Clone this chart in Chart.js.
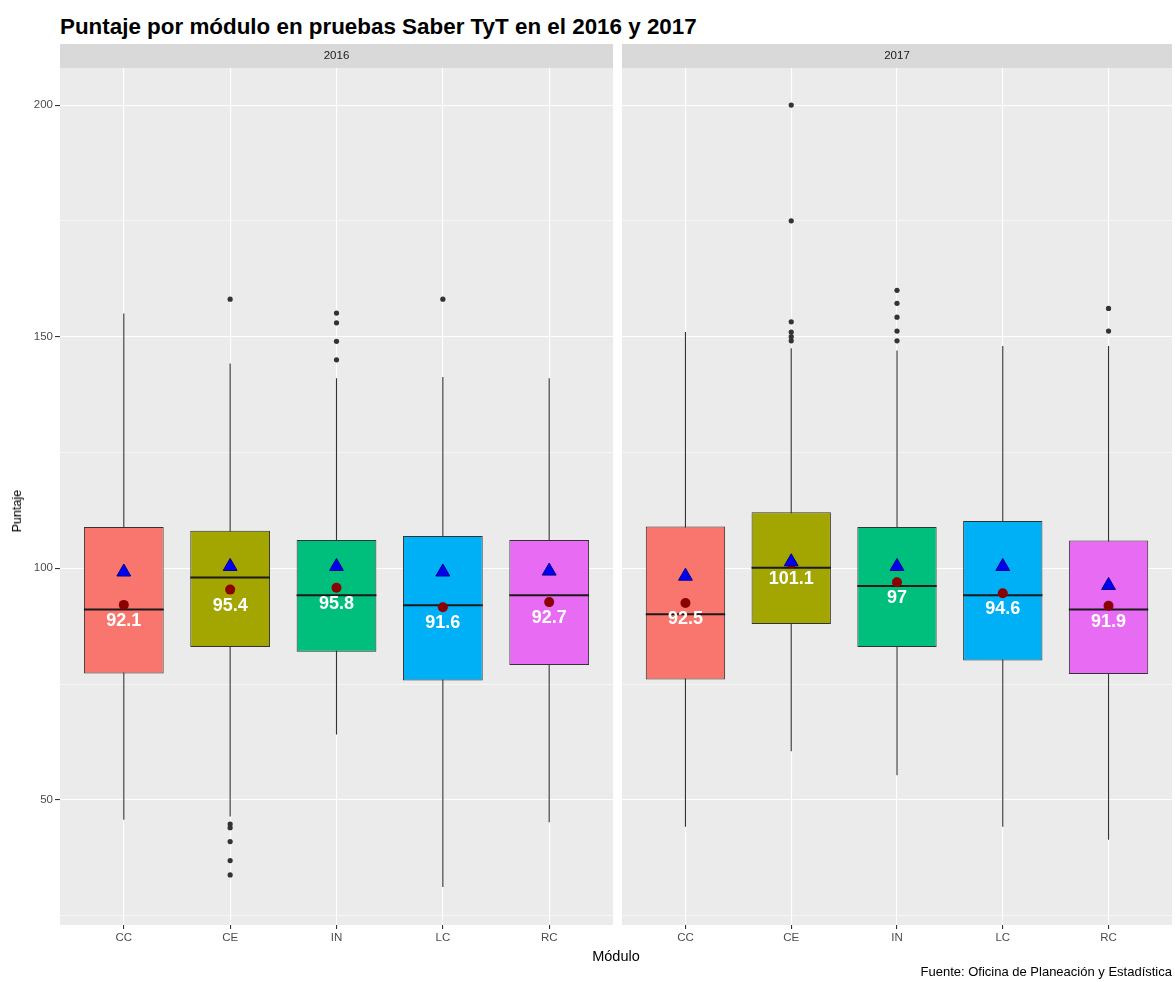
<!DOCTYPE html>
<html>
<head>
<meta charset="utf-8">
<script src="https://cdn.jsdelivr.net/npm/chart.js@4.4.1/dist/chart.umd.min.js"></script>
<style>
  body { margin: 0; background: #fff; width: 1175px; height: 982px; position: relative; overflow: hidden;
         font-family: 'Liberation Sans', Arial, sans-serif; }
  canvas { position: absolute; top: 0; }
  #c2016 { left: 0; }
  #c2017 { left: 617px; }
  #title { position: absolute; left: 60px; top: 16px; font-size: 22.4px; font-weight: bold; line-height: 1; color: #000; white-space: nowrap; }
  #ylab { position: absolute; left: 10px; top: 490px; font-size: 12.5px; line-height: 14px; color: #000;
          writing-mode: vertical-rl; transform: rotate(180deg); white-space: nowrap; }
  #xlab { position: absolute; left: 516px; width: 200px; top: 949px; text-align: center; font-size: 14.5px; line-height: 1; color: #000; }
  #caption { position: absolute; right: 3px; top: 965px; font-size: 13px; line-height: 1; color: #000; white-space: nowrap; }
</style>
</head>
<body>
<div id="title">Puntaje por módulo en pruebas Saber TyT en el 2016 y 2017</div>
<canvas id="c2016" width="617" height="982"></canvas>
<canvas id="c2017" width="558" height="982"></canvas>
<div id="ylab">Puntaje</div>
<div id="xlab">Módulo</div>
<div id="caption">Fuente: Oficina de Planeación y Estadística</div>
<script>
const modules = ['CC', 'CE', 'IN', 'LC', 'RC'];
const yTicks = [50, 100, 150, 200];
const yMinor = [25, 75, 125, 175];

// 2016
const lower2016 = [45.7, 46.4, 64.1, 31.2, 45.2];
const q1_2016 = [77.3, 83.0, 82.0, 75.8, 79.1];
const median2016 = [91.1, 98.0, 94.2, 92.0, 94.2];
const q3_2016 = [108.9, 108.1, 106.1, 107.0, 106.1];
const upper2016 = [155.0, 144.2, 141.0, 141.3, 141.0];
const mean2016 = [92.1, 95.4, 95.8, 91.6, 92.7];
const triangle2016 = [99.2, 100.4, 100.4, 99.2, 99.4];
const outliers2016 = [[], [158.1, 44.8, 44.0, 41.0, 36.9, 33.8], [155.1, 153.0, 149.0, 145.0], [158.1], []];

// 2017
const lower2017 = [44.2, 60.5, 55.3, 44.2, 41.4];
const q1_2017 = [76.0, 88.0, 83.0, 80.1, 77.2];
const median2017 = [90.1, 100.1, 96.2, 94.2, 91.1];
const q3_2017 = [109.0, 112.1, 108.9, 110.2, 106.0];
const upper2017 = [151.0, 147.5, 147.0, 148.0, 148.0];
const mean2017 = [92.5, 101.1, 97, 94.6, 91.9];
const triangle2017 = [98.3, 101.4, 100.4, 100.4, 96.3];
const outliers2017 = [[], [200.0, 175.0, 153.2, 151.0, 150.0, 149.1], [160.0, 157.2, 154.2, 151.2, 149.1], [], [156.1, 151.2]];

const boxColors = ['#F8766D', '#A3A500', '#00BF7D', '#00B0F6', '#E76BF3'];
const family = "'Liberation Sans', Arial, sans-serif";

function makePanel(id, year, lower, q1, median, q3, upper, mean, tri, outliers, first) {
  const panelPlugin = {
    id: 'panel' + year,
    beforeDraw(chart) {
      const { ctx, chartArea: a } = chart;
      ctx.save();
      ctx.fillStyle = '#EBEBEB';
      ctx.fillRect(a.left, a.top, a.right - a.left, a.bottom - a.top);
      ctx.fillStyle = '#D9D9D9';
      ctx.fillRect(a.left, a.top - 24, a.right - a.left, 24);
      ctx.fillStyle = '#1A1A1A';
      ctx.font = '11.5px ' + family;
      ctx.textAlign = 'center';
      ctx.textBaseline = 'middle';
      ctx.fillText(year, (a.left + a.right) / 2, a.top - 12);
      ctx.restore();
    },
    afterDatasetDraw(chart, args) {
      if (args.index !== 2) return;
      // median lines, on top of the boxes, under the points
      const ctx = chart.ctx;
      const bars = chart.getDatasetMeta(2).data;
      ctx.save();
      ctx.strokeStyle = '#1A1A1A';
      ctx.lineWidth = 2;
      bars.forEach((el, i) => {
        const y = chart.scales.y.getPixelForValue(median[i]);
        ctx.beginPath();
        ctx.moveTo(el.x - el.width / 2, y);
        ctx.lineTo(el.x + el.width / 2, y);
        ctx.stroke();
      });
      ctx.restore();
    },
    afterDatasetsDraw(chart) {
      const ctx = chart.ctx;
      ctx.save();
      ctx.fillStyle = '#FFFFFF';
      ctx.font = 'bold 18px ' + family;
      ctx.textAlign = 'center';
      ctx.textBaseline = 'middle';
      mean.forEach((v, i) => {
        const x = chart.scales.x.getPixelForValue(i + 1);
        const y = chart.scales.y.getPixelForValue(v) + 16;
        ctx.fillText(String(v), x, y);
      });
      ctx.restore();
    }
  };

  return new Chart(document.getElementById(id), {
    type: 'bar',
    data: {
      datasets: [
        {
          label: 'whisker',
          data: lower.map((v, i) => ({ x: i + 1, y: [v, upper[i]] })),
          backgroundColor: '#333333',
          maxBarThickness: 1.1,
          grouped: false,
          order: 5
        },
        {
          type: 'scatter',
          label: 'outliers',
          data: outliers.flatMap((arr, i) => arr.map(v => ({ x: i + 1, y: v }))),
          backgroundColor: '#333333',
          borderWidth: 0,
          pointRadius: 2.6,
          order: 4
        },
        {
          label: 'box',
          data: q1.map((v, i) => ({ x: i + 1, y: [v, q3[i]] })),
          backgroundColor: boxColors,
          borderColor: '#333333',
          borderWidth: 1,
          borderSkipped: false,
          barPercentage: 0.75,
          categoryPercentage: 1,
          grouped: false,
          order: 3
        },
        {
          type: 'scatter',
          label: 'mean',
          data: mean.map((v, i) => ({ x: i + 1, y: v })),
          backgroundColor: '#8B0000',
          borderWidth: 0,
          pointRadius: 5,
          order: 2
        },
        {
          type: 'scatter',
          label: 'triangle',
          data: tri.map((v, i) => ({ x: i + 1, y: v })),
          pointStyle: 'triangle',
          backgroundColor: '#0000F0',
          borderColor: '#00008B',
          borderWidth: 1,
          pointRadius: 8,
          order: 1
        }
      ]
    },
    options: {
      responsive: false,
      animation: false,
      devicePixelRatio: 1,
      layout: { autoPadding: false, padding: { left: first ? 0 : 5, right: first ? 4 : 3, top: 68, bottom: 35 } },
      plugins: { legend: { display: false }, tooltip: { enabled: false } },
      scales: {
        x: {
          type: 'linear',
          min: 0.4,
          max: 5.6,
          offset: false,
          afterBuildTicks: s => { s.ticks = modules.map((m, i) => ({ value: i + 1 })); },
          afterFit: s => { s.height = 22; },
          grid: { color: '#FFFFFF', lineWidth: 1.1, tickColor: '#333333', tickLength: 4, offset: false },
          border: { display: false },
          ticks: {
            callback: v => modules[v - 1],
            color: '#4D4D4D',
            font: { size: 11.5, family: family },
            padding: 2,
            maxRotation: 0,
            autoSkip: false
          }
        },
        y: {
          min: 23,
          max: 208,
          afterBuildTicks: s => { s.ticks = yMinor.concat(yTicks).sort((a, b) => a - b).map(v => ({ value: v })); },
          afterFit: s => { s.width = first ? 60 : 0; },
          grid: {
            color: '#FFFFFF',
            lineWidth: c => (c.tick && yTicks.includes(c.tick.value)) ? 1.1 : 0.55,
            tickColor: c => (c.tick && yTicks.includes(c.tick.value)) ? '#333333' : 'rgba(0,0,0,0)',
            tickLength: 5,
            drawTicks: first
          },
          border: { display: false },
          ticks: {
            display: first,
            callback: v => yTicks.includes(v) ? String(v) : '',
            color: '#4D4D4D',
            font: { size: 11.5, family: family },
            padding: 2
          }
        }
      }
    },
    plugins: [panelPlugin]
  });
}

makePanel('c2016', '2016', lower2016, q1_2016, median2016, q3_2016, upper2016, mean2016, triangle2016, outliers2016, true);
makePanel('c2017', '2017', lower2017, q1_2017, median2017, q3_2017, upper2017, mean2017, triangle2017, outliers2017, false);
</script>
</body>
</html>
